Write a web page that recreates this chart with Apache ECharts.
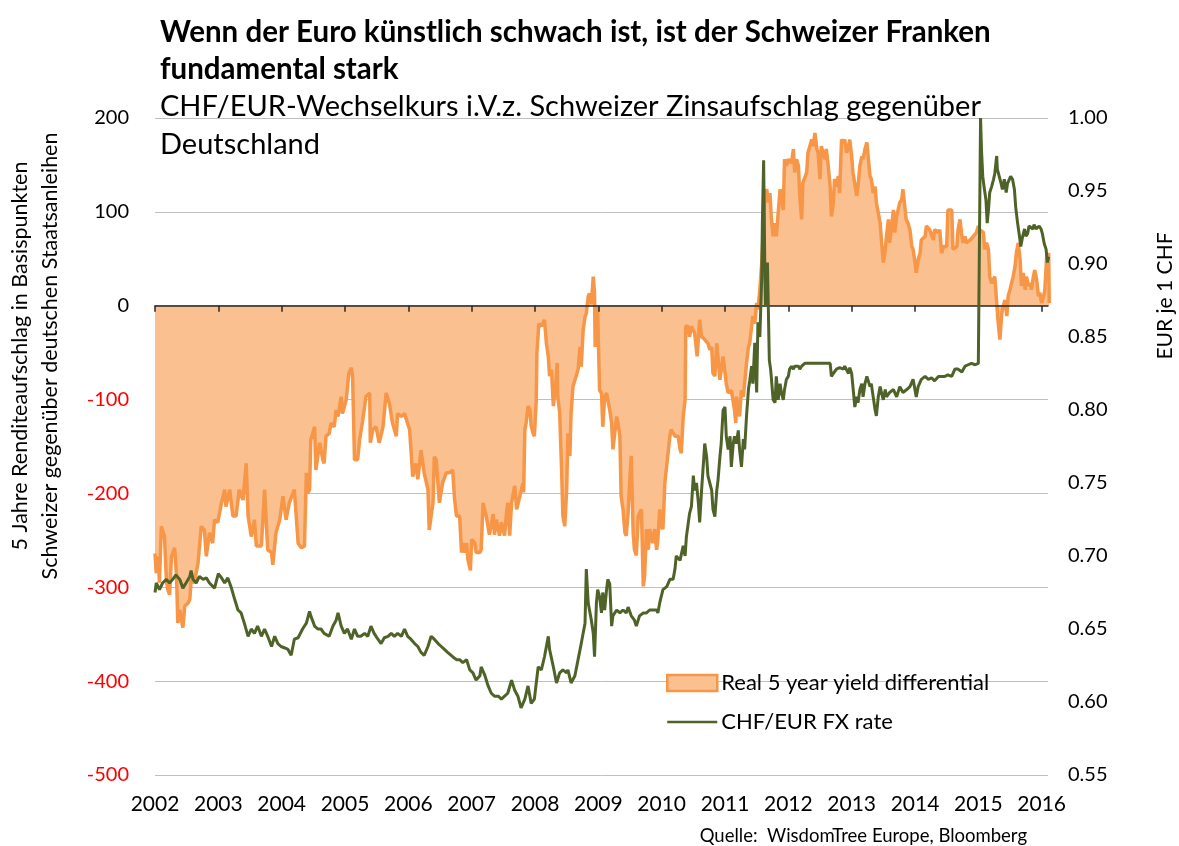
<!DOCTYPE html>
<html>
<head>
<meta charset="utf-8">
<script src="https://cdn.jsdelivr.net/npm/echarts@6/dist/echarts.min.js"></script>
<style>
html,body{margin:0;padding:0;background:#fff;}
#chart{width:1179px;height:846px;}
</style>
</head>
<body>
<div id="chart"></div>
<script>
// ---- data ----
const yearTicks = [2002,2003,2004,2005,2006,2007,2008,2009,2010,2011,2012,2013,2014,2015,2016];

const yieldYears = [
2002.00,2002.02,2002.05,2002.07,2002.10,2002.15,2002.18,2002.20,2002.23,2002.26,2002.31,2002.34,2002.36,2002.39,2002.44,2002.47,2002.52,2002.55,2002.57,2002.62,2002.68,2002.73,2002.78,2002.81,2002.86,2002.91,2002.94,2002.99,
2003.05,2003.10,2003.12,2003.18,2003.23,2003.28,2003.33,2003.39,2003.44,2003.47,2003.52,2003.57,2003.60,2003.68,2003.73,2003.78,2003.84,2003.86,2003.91,2003.97,
2004.02,2004.07,2004.12,2004.20,2004.26,2004.31,2004.36,2004.39,2004.41,2004.44,2004.46,2004.52,2004.54,2004.60,2004.65,2004.67,2004.70,2004.75,2004.78,2004.83,2004.86,2004.89,2004.94,2004.96,
2005.02,2005.06,2005.10,2005.12,2005.15,2005.20,2005.23,2005.28,2005.33,2005.39,2005.40,2005.44,2005.49,2005.54,2005.60,2005.65,2005.70,2005.75,2005.81,2005.83,2005.89,2005.94,
2006.02,2006.07,2006.12,2006.15,2006.20,2006.25,2006.31,2006.33,2006.36,2006.39,2006.41,2006.44,2006.49,2006.54,2006.60,2006.65,2006.70,2006.73,2006.76,2006.81,2006.84,2006.86,2006.89,2006.92,2006.94,2006.98,
2007.00,2007.05,2007.07,2007.13,2007.15,2007.18,2007.23,2007.28,2007.31,2007.34,2007.36,2007.39,2007.44,2007.47,2007.52,2007.55,2007.57,2007.60,2007.63,2007.68,2007.71,2007.76,2007.81,2007.82,2007.84,2007.86,2007.89,2007.92,2007.94,2007.97,2007.99,
2008.02,2008.03,2008.06,2008.10,2008.15,2008.18,2008.21,2008.23,2008.26,2008.29,2008.31,2008.33,2008.35,2008.36,2008.39,2008.42,2008.44,2008.47,2008.50,2008.52,2008.55,2008.57,2008.60,2008.65,2008.68,2008.71,2008.73,2008.76,2008.79,2008.81,2008.84,2008.86,2008.89,2008.92,2008.94,2008.95,2008.97,2008.99,
2009.02,2009.05,2009.07,2009.10,2009.13,2009.18,2009.21,2009.23,2009.26,2009.29,2009.31,2009.34,2009.36,2009.39,2009.42,2009.44,2009.47,2009.50,2009.52,2009.55,2009.57,2009.60,2009.63,2009.68,2009.71,2009.73,2009.76,2009.79,2009.81,2009.86,2009.89,2009.92,2009.94,2009.97,2009.99,
2010.02,2010.05,2010.08,2010.13,2010.15,2010.21,2010.26,2010.29,2010.31,2010.34,2010.37,2010.38,2010.42,2010.44,2010.47,2010.52,2010.56,2010.60,2010.63,2010.68,2010.73,2010.76,2010.79,2010.81,2010.84,2010.87,2010.92,2010.97,
2011.02,2011.05,2011.10,2011.15,2011.17,2011.18,2011.23,2011.26,2011.29,2011.34,2011.37,2011.39,2011.42,2011.44,2011.47,2011.50,2011.52,2011.55,2011.58,2011.60,2011.63,2011.66,2011.68,2011.71,2011.73,2011.76,2011.79,2011.81,2011.84,2011.87,2011.89,2011.92,2011.94,2011.97,
2012.00,2012.05,2012.08,2012.10,2012.13,2012.16,2012.18,2012.21,2012.23,2012.26,2012.29,2012.31,2012.34,2012.37,2012.39,2012.42,2012.45,2012.47,2012.50,2012.52,2012.55,2012.58,2012.60,2012.63,2012.66,2012.68,2012.71,2012.73,2012.76,2012.79,2012.81,2012.84,2012.87,2012.89,2012.92,2012.95,2012.97,
2013.00,2013.02,2013.08,2013.10,2013.13,2013.16,2013.18,2013.21,2013.24,2013.26,2013.29,2013.31,2013.34,2013.37,2013.39,2013.45,2013.47,2013.50,2013.53,2013.55,2013.58,2013.60,2013.63,2013.66,2013.68,2013.71,2013.76,2013.79,2013.81,2013.84,2013.86,2013.89,2013.92,2013.95,2013.97,
2014.00,2014.02,2014.05,2014.08,2014.10,2014.16,2014.18,2014.23,2014.29,2014.31,2014.37,2014.39,2014.42,2014.45,2014.50,2014.52,2014.58,2014.60,2014.66,2014.68,2014.71,2014.74,2014.76,2014.79,2014.81,2014.87,2014.92,2014.97,
2015.00,2015.02,2015.05,2015.08,2015.10,2015.13,2015.16,2015.18,2015.21,2015.24,2015.26,2015.29,2015.31,2015.34,2015.37,2015.39,2015.42,2015.45,2015.47,2015.50,2015.55,2015.58,2015.60,2015.63,2015.66,2015.68,2015.71,2015.74,2015.76,2015.79,2015.82,2015.84,2015.87,2015.89,2015.92,2015.95,2015.97,
2016.00,2016.03,2016.05,2016.08,2016.11,2016.12
];
const yieldVals = [
-264,-285,-267,-295,-235,-246,-292,-302,-308,-267,-258,-288,-338,-324,-343,-320,-317,-313,-292,-295,-274,-235,-239,-267,-242,-253,-228,-231,
-210,-196,-214,-196,-224,-224,-196,-207,-168,-224,-246,-228,-256,-256,-196,-260,-263,-276,-242,-228,
-203,-228,-210,-196,-253,-258,-256,-178,-200,-196,-143,-129,-175,-146,-164,-168,-139,-136,-125,-129,-111,-118,-97,-115,
-100,-72,-66,-76,-164,-164,-143,-122,-97,-93,-146,-132,-129,-146,-129,-93,-104,-125,-139,-115,-118,-115,
-132,-182,-168,-185,-154,-178,-196,-239,-224,-210,-161,-164,-210,-189,-178,-178,-175,-206,-224,-224,-263,-253,-263,-253,-270,-282,
-249,-253,-263,-263,-260,-210,-224,-244,-242,-222,-244,-228,-245,-231,-245,-221,-210,-245,-210,-192,-217,-203,-189,-199,-132,-125,-107,-111,-128,-136,-139,
-100,-51,-19,-22,-15,-40,-54,-75,-68,-107,-107,-82,-61,-97,-114,-175,-224,-235,-196,-136,-160,-114,-86,-75,-68,-44,-65,-26,-12,-8,10,13,2,31,13,-44,-1,-8,
-90,-93,-129,-97,-93,-111,-125,-153,-153,-118,-125,-139,-203,-217,-242,-245,-221,-182,-160,-242,-260,-266,-224,-217,-299,-288,-238,-260,-238,-253,-238,-260,-249,-217,-235,
-238,-189,-189,-139,-132,-139,-139,-153,-157,-118,-100,-22,-22,-33,-22,-29,-54,-15,-33,-36,-40,-47,-44,-72,-75,-40,-79,-54,
-83,-93,-90,-111,-125,-97,-118,-90,-97,-61,-44,-40,-22,-11,-19,3,-4,17,46,74,120,124,110,120,95,74,88,74,99,124,117,102,156,149,
156,152,167,142,156,149,117,92,131,131,142,163,170,177,170,184,167,163,135,170,163,156,167,149,127,95,110,135,127,138,120,177,174,177,163,170,177,
159,142,117,127,149,159,156,167,174,159,138,135,120,127,110,88,70,46,59,74,92,67,85,102,78,95,110,113,124,126,92,88,81,63,60,
46,35,49,56,70,74,85,81,70,81,78,81,56,63,63,102,102,60,63,81,92,74,67,74,67,70,74,78,
85,81,81,78,60,67,60,31,24,24,31,3,-15,-36,-8,-1,6,-11,10,17,31,42,56,67,49,21,35,17,31,21,24,17,31,38,28,10,14,
3,10,17,53,56,3
];

const fxYears = [
2002.00,2002.02,2002.07,2002.12,2002.18,2002.23,2002.28,2002.33,2002.36,2002.39,2002.44,2002.49,2002.55,2002.57,2002.60,2002.65,2002.70,2002.76,2002.81,2002.86,2002.94,
2003.00,2003.05,2003.10,2003.15,2003.20,2003.26,2003.31,2003.36,2003.41,2003.47,2003.52,2003.57,2003.62,2003.68,2003.73,2003.78,2003.84,2003.89,2003.94,2003.99,
2004.05,2004.10,2004.15,2004.20,2004.26,2004.33,2004.39,2004.44,2004.46,2004.52,2004.57,2004.62,2004.67,2004.75,2004.81,2004.86,2004.89,2004.94,2004.99,
2005.04,2005.10,2005.15,2005.20,2005.25,2005.31,2005.36,2005.41,2005.46,2005.52,2005.57,2005.62,2005.68,2005.73,2005.78,2005.83,2005.89,2005.94,2005.99,
2006.04,2006.10,2006.15,2006.20,2006.25,2006.31,2006.36,2006.41,2006.47,2006.52,2006.57,2006.62,2006.65,2006.70,2006.76,2006.81,2006.86,2006.92,2006.97,
2007.02,2007.07,2007.13,2007.15,2007.21,2007.26,2007.31,2007.36,2007.42,2007.47,2007.52,2007.57,2007.63,2007.68,2007.73,2007.78,2007.84,2007.89,2007.94,2007.99,
2008.05,2008.10,2008.15,2008.21,2008.23,2008.29,2008.34,2008.39,2008.44,2008.50,2008.52,2008.57,2008.63,2008.68,2008.73,2008.79,2008.81,2008.84,2008.86,2008.89,2008.92,2008.94,2008.97,2008.99,
2009.02,2009.05,2009.07,2009.10,2009.13,2009.15,2009.18,2009.21,2009.23,2009.29,2009.34,2009.39,2009.44,2009.47,2009.52,2009.57,2009.60,2009.65,2009.71,2009.76,2009.81,2009.86,2009.92,2009.94,2009.97,
2010.02,2010.08,2010.13,2010.18,2010.21,2010.23,2010.29,2010.34,2010.37,2010.39,2010.42,2010.44,2010.47,2010.50,2010.52,2010.55,2010.58,2010.60,2010.63,2010.66,2010.68,2010.71,2010.73,2010.76,2010.79,2010.81,2010.84,2010.87,2010.89,2010.92,2010.94,2010.97,
2011.00,2011.02,2011.05,2011.08,2011.10,2011.13,2011.15,2011.18,2011.21,2011.23,2011.26,2011.29,2011.31,2011.34,2011.37,2011.39,2011.42,2011.44,2011.47,2011.50,2011.52,2011.55,2011.58,2011.59,2011.61,2011.63,2011.64,2011.67,2011.68,2011.70,2011.72,2011.73,2011.76,2011.79,2011.81,2011.84,2011.87,2011.89,2011.92,2011.94,2011.97,
2012.00,2012.02,2012.05,2012.08,2012.10,2012.16,2012.18,2012.21,2012.26,2012.34,2012.45,2012.55,2012.66,2012.68,2012.71,2012.76,2012.81,2012.87,2012.89,2012.92,2012.95,2012.97,
2013.00,2013.02,2013.05,2013.08,2013.10,2013.13,2013.16,2013.18,2013.21,2013.24,2013.26,2013.29,2013.31,2013.34,2013.37,2013.39,2013.42,2013.45,2013.47,2013.50,2013.53,2013.55,2013.60,2013.66,2013.71,2013.76,2013.81,2013.87,2013.92,2013.97,
2014.02,2014.05,2014.10,2014.16,2014.21,2014.26,2014.31,2014.37,2014.42,2014.47,2014.52,2014.58,2014.63,2014.68,2014.74,2014.79,2014.84,2014.89,2014.95,
2015.00,2015.025,2015.035,2015.05,2015.07,2015.09,2015.12,2015.14,2015.16,2015.18,2015.21,2015.24,2015.26,2015.29,2015.30,2015.33,2015.36,2015.38,2015.41,2015.44,2015.46,2015.49,2015.51,2015.54,2015.57,2015.59,2015.62,2015.65,2015.67,2015.70,2015.73,2015.75,2015.78,2015.80,2015.83,2015.86,2015.88,2015.91,2015.94,2015.96,2015.99,
2016.01,2016.04,2016.07,2016.09,2016.11
];
const fxVals = [
0.675,0.6815,0.677,0.6815,0.684,0.6815,0.684,0.687,0.688,0.684,0.678,0.6815,0.686,0.690,0.684,0.6815,0.686,0.684,0.685,0.6815,0.678,
0.688,0.685,0.6815,0.685,0.679,0.670,0.663,0.661,0.654,0.645,0.650,0.647,0.652,0.645,0.650,0.645,0.638,0.645,0.640,0.638,
0.637,0.636,0.632,0.643,0.644,0.650,0.654,0.662,0.659,0.652,0.650,0.650,0.647,0.645,0.652,0.656,0.661,0.652,0.647,
0.650,0.643,0.650,0.645,0.645,0.647,0.645,0.652,0.647,0.643,0.640,0.644,0.645,0.647,0.645,0.647,0.645,0.650,0.645,
0.643,0.640,0.638,0.634,0.632,0.638,0.645,0.643,0.640,0.638,0.636,0.634,0.6335,0.631,0.629,0.629,0.627,0.629,0.622,
0.620,0.615,0.618,0.624,0.618,0.611,0.606,0.604,0.604,0.602,0.604,0.606,0.615,0.608,0.604,0.596,0.602,0.611,0.599,0.602,
0.624,0.622,0.631,0.645,0.636,0.624,0.613,0.620,0.622,0.620,0.622,0.613,0.618,0.629,0.640,0.654,0.691,0.668,0.663,0.656,0.647,0.631,0.668,0.677,
0.672,0.661,0.675,0.663,0.677,0.684,0.681,0.652,0.659,0.663,0.661,0.663,0.661,0.665,0.659,0.656,0.652,0.659,0.661,0.661,0.663,0.663,0.663,0.661,0.668,
0.677,0.679,0.684,0.684,0.691,0.700,0.697,0.707,0.700,0.713,0.713,0.729,0.734,0.755,0.745,0.750,0.736,0.723,0.745,0.764,0.777,0.768,0.755,0.750,0.745,0.732,0.727,0.745,0.752,0.768,0.777,0.800,
0.802,0.782,0.773,0.782,0.761,0.777,0.782,0.777,0.786,0.773,0.761,0.780,0.773,0.796,0.814,0.820,0.830,0.818,0.846,0.812,0.860,0.850,0.891,0.928,0.971,0.891,0.871,0.901,0.901,0.834,0.828,0.823,0.807,0.805,0.823,0.807,0.818,0.812,0.807,0.814,0.821,
0.823,0.828,0.830,0.828,0.830,0.830,0.828,0.830,0.832,0.832,0.832,0.832,0.832,0.823,0.825,0.828,0.829,0.828,0.830,0.830,0.825,0.829,
0.825,0.816,0.802,0.809,0.805,0.814,0.818,0.809,0.818,0.823,0.823,0.816,0.818,0.809,0.800,0.796,0.809,0.816,0.812,0.807,0.814,0.809,0.812,0.814,0.809,0.816,0.812,0.814,0.816,0.821,
0.809,0.816,0.821,0.823,0.821,0.822,0.820,0.823,0.823,0.823,0.824,0.823,0.828,0.828,0.826,0.830,0.831,0.832,0.831,
0.832,0.832,1.000,0.978,0.960,0.953,0.944,0.928,0.937,0.949,0.953,0.958,0.962,0.974,0.965,0.960,0.955,0.951,0.958,0.949,0.955,0.955,0.960,0.958,0.951,0.939,0.928,0.919,0.912,0.919,0.924,0.919,0.921,0.926,0.926,0.924,0.927,0.924,0.925,0.926,0.924,
0.921,0.914,0.910,0.901,0.905
];

const seriesNames = ['Real 5 year yield differential', 'CHF/EUR FX rate'];

// ---- chart ----
const FONT = 'Lato, "Open Sans", sans-serif';
const yieldData = yieldYears.map((x, i) => [x, yieldVals[i]]);
const fxData = fxYears.map((x, i) => [x, fxVals[i]]);

const chart = echarts.init(document.getElementById('chart'), null, {renderer: 'canvas'});
chart.setOption({
  animation: false,
  backgroundColor: '#ffffff',
  textStyle: {fontFamily: FONT},
  title: {
    left: 155, top: 9,
    text: 'Wenn der Euro künstlich schwach ist, ist der Schweizer Franken\nfundamental stark',
    subtext: 'CHF/EUR-Wechselkurs i.V.z. Schweizer Zinsaufschlag gegenüber\nDeutschland',
    itemGap: 0,
    textStyle: {fontFamily: FONT, fontSize: 29.5, fontWeight: 'bold', color: '#000', lineHeight: 37},
    subtextStyle: {fontFamily: FONT, fontSize: 29, color: '#000', lineHeight: 38}
  },
  grid: {left: 155, right: 131, top: 118, bottom: 71, containLabel: false},
  legend: {
    orient: 'vertical', left: 661, top: 667,
    itemWidth: 50, itemHeight: 16, itemGap: 17,
    textStyle: {fontFamily: FONT, fontSize: 22, color: '#000', padding: [0, 0, 0, -1]},
    data: [
      {name: seriesNames[0], icon: 'rect', itemStyle: {color: '#FAC090', borderColor: '#F79646', borderWidth: 2.5}},
      {name: seriesNames[1], itemStyle: {color: 'rgba(0,0,0,0)', borderColor: 'rgba(0,0,0,0)', borderWidth: 0, opacity: 0}, lineStyle: {color: '#4F6228', width: 2.5}}
    ]
  },
  xAxis: [
    {
      type: 'value', min: 2002, max: 2016.1, position: 'bottom',
      axisLine: {show: false, onZero: false},
      axisTick: {show: false},
      splitLine: {show: false},
      axisLabel: {customValues: yearTicks, formatter: v => String(Math.round(v)), fontFamily: FONT, fontSize: 21, color: '#000', margin: 19}
    },
    {
      type: 'value', min: 2002, max: 2016.1, position: 'bottom', z: 3,
      axisLine: {show: true, onZero: true, onZeroAxisIndex: 0, lineStyle: {color: '#262626', width: 1.5}},
      axisTick: {show: true, customValues: yearTicks, length: 6, lineStyle: {color: '#262626', width: 1.5}},
      axisLabel: {show: false},
      splitLine: {show: false}
    }
  ],
  yAxis: [
    {
      type: 'value', min: -500, max: 200, interval: 100, position: 'left',
      axisLine: {show: false}, axisTick: {show: false},
      splitLine: {show: true, lineStyle: {color: '#C0C0C0', width: 1}},
      axisLabel: {fontFamily: FONT, fontSize: 20, margin: 26, color: v => (Number(v) < 0 ? '#FF0000' : '#000000')}
    },
    {
      type: 'value', min: 0.55, max: 1.0, interval: 0.05, position: 'right',
      axisLine: {show: false}, axisTick: {show: false}, splitLine: {show: false},
      axisLabel: {fontFamily: FONT, fontSize: 20, margin: 20, color: '#000', formatter: v => Number(v).toFixed(2)}
    }
  ],
  graphic: [
    {
      type: 'text', x: 35, y: 356, rotation: Math.PI / 2,
      style: {
        text: '5 Jahre Renditeaufschlag in Basispunkten\nSchweizer gegenüber deutschen Staatsanleihen',
        font: '21.5px ' + FONT, fill: '#000', align: 'center', verticalAlign: 'middle', lineHeight: 30
      }
    },
    {
      type: 'text', x: 1165, y: 296, rotation: Math.PI / 2,
      style: {text: 'EUR je 1 CHF', font: '21px ' + FONT, fill: '#000', align: 'center', verticalAlign: 'middle'}
    },
    {
      type: 'text', x: 1027, y: 836,
      style: {text: 'Quelle:  WisdomTree Europe, Bloomberg', font: '18.5px ' + FONT, fill: '#000', align: 'right', verticalAlign: 'middle'}
    }
  ],
  series: [
    {
      name: seriesNames[0], type: 'line', xAxisIndex: 0, yAxisIndex: 0,
      data: yieldData, symbol: 'none', showSymbol: false, z: 2,
      lineStyle: {color: '#F79646', width: 3.5},
      itemStyle: {color: '#F79646'},
      areaStyle: {color: '#FAC090', opacity: 1, origin: 0}
    },
    {
      name: seriesNames[1], type: 'line', xAxisIndex: 0, yAxisIndex: 1,
      data: fxData, symbol: 'none', showSymbol: false, z: 4,
      lineStyle: {color: '#4F6228', width: 3},
      itemStyle: {color: '#4F6228'}
    }
  ]
});
</script>
</body>
</html>
